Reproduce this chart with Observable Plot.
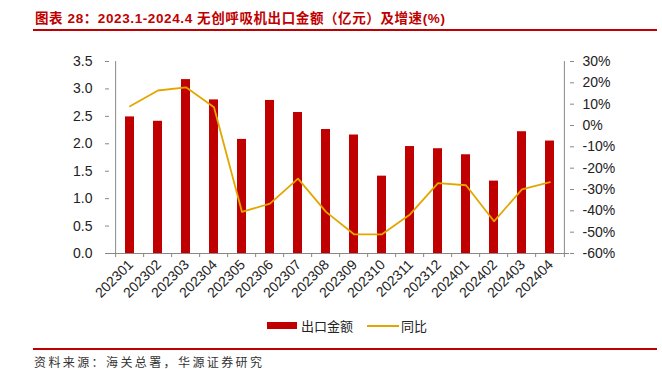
<!DOCTYPE html>
<html><head><meta charset="utf-8">
<script src="https://cdn.jsdelivr.net/npm/d3@7"></script>
<script src="https://cdn.jsdelivr.net/npm/@observablehq/plot@0.6"></script>
<style>
body{margin:0;background:#fff;}
#wrap{position:relative;width:662px;height:369px;overflow:hidden;background:#fff;}
#title{position:absolute;left:35px;top:12px;font-size:13.5px;line-height:14px;font-weight:bold;color:#C00000;white-space:nowrap;letter-spacing:0.6px;font-family:"Liberation Sans","Noto Sans CJK SC",sans-serif;}
.hline{position:absolute;left:33px;width:624px;height:1.5px;background:#C00000;}
#chart{position:absolute;left:0;top:31px;}
.lg{position:absolute;font-family:"Noto Sans CJK SC",sans-serif;font-size:13px;line-height:13px;color:#222;white-space:nowrap;}
#footer{position:absolute;left:34px;top:355px;font-family:"Noto Sans CJK SC",sans-serif;font-size:12px;line-height:13px;letter-spacing:2.4px;color:#333;white-space:nowrap;}
</style></head>
<body>
<div id="wrap">
  <div id="title">图表 28：2023.1-2024.4 无创呼吸机出口金额（亿元）及增速(%)</div>
  <div class="hline" style="top:29px"></div>
  <div id="chart"></div>
  <div style="position:absolute;left:267px;top:322px;width:30px;height:7px;background:#C00000"></div>
  <div class="lg" style="left:301px;top:318.5px">出口金额</div>
  <div style="position:absolute;left:367px;top:325px;width:32px;height:1.6px;background:#E3A600"></div>
  <div class="lg" style="left:401px;top:318.5px">同比</div>
  <div class="hline" style="top:348px"></div>
  <div id="footer">资料来源：海关总署，华源证券研究</div>
</div>
<script>
const months = ["202301","202302","202303","202304","202305","202306","202307","202308","202309","202310","202311","202312","202401","202402","202403","202404"];
const exportValue = [2.49,2.41,3.17,2.80,2.08,2.79,2.57,2.26,2.16,1.41,1.95,1.91,1.80,1.32,2.22,2.05];
const yoyPct = [9,16.4,17.9,8.6,-40.5,-36.6,-24.9,-40.5,-51,-51,-41.7,-27,-28,-44.9,-29.9,-26.6];
const leftTicks = [0,0.5,1,1.5,2,2.5,3,3.5];
const rightTicks = [-60,-50,-40,-30,-20,-10,0,10,20,30];

const W = 662, H = 280, mL = 109, mR = 93, mT = 30, mB = 58;
const yMax = 3.5, pMin = -60, pMax = 30;
const toLeft = p => (p - pMin) / (pMax - pMin) * yMax;
const step = (W - mL - mR) / months.length;

const data = months.map((m, i) => ({m, v: exportValue[i], p: yoyPct[i]}));
const gray = "#888";
const font = "Liberation Sans, Arial, sans-serif";

const chart = Plot.plot({
  width: W, height: H,
  marginLeft: mL, marginRight: mR, marginTop: mT, marginBottom: mB,
  style: {fontFamily: font, fontSize: "14px", color: "#222", background: "white"},
  x: {domain: months, paddingInner: 0.69, paddingOuter: 0.345, axis: null},
  y: {domain: [0, yMax], axis: null},
  marks: [
    Plot.barY(data, {x: "m", y: "v", fill: "#C00000"}),
    Plot.line(data, {x: "m", y: d => toLeft(d.p), stroke: "#E3A600", strokeWidth: 1.8}),
    Plot.ruleY([0], {stroke: gray, strokeWidth: 1}),
    Plot.ruleX([months[0]], {dx: -step / 2, stroke: gray, strokeWidth: 1}),
    Plot.ruleX([months[months.length - 1]], {dx: step / 2, stroke: gray, strokeWidth: 1}),
    Plot.axisY(leftTicks, {anchor: "left", label: null, tickSize: 4, tickPadding: 13, stroke: gray, tickFormat: d3.format(".1f"), fill: "#222"}),
    Plot.axisY(rightTicks.map(toLeft), {anchor: "right", label: null, tickSize: 4, tickPadding: 9, stroke: gray, fill: "#222",
      tickFormat: v => Math.round(v / yMax * (pMax - pMin) + pMin) + "%"}),
    Plot.axisX(months, {anchor: "bottom", label: null, tickSize: 4, dx: -step / 2, stroke: gray, tickFormat: () => ""}),
    Plot.axisX([months[months.length - 1]], {anchor: "bottom", label: null, tickSize: 4, dx: step / 2, stroke: gray, tickFormat: () => ""}),
    Plot.text(months, {x: d => d, frameAnchor: "bottom", rotate: -45, textAnchor: "end", dy: 12, dx: 4, fill: "#222", fontSize: 14})
  ]
});
document.getElementById("chart").appendChild(chart);
</script>
</body></html>
